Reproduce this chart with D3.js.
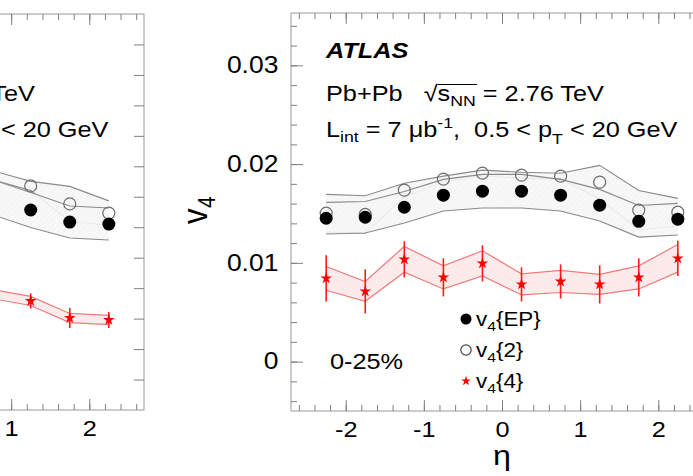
<!DOCTYPE html>
<meta charset="utf-8">
<style>
body { margin: 0; background: #fff; }
svg { display: block; }
text { font-family: "Liberation Sans", Arial, sans-serif; white-space: pre; fill: #000; }
.frame { fill: none; stroke: #9a9a9a; stroke-width: 1; }
.tick line { stroke: #808080; }
</style>
<svg id="vis" width="693" height="476"></svg>
<script src="https://cdn.jsdelivr.net/npm/d3@7"></script>
<script>
// eta bins (bin centres)
var eta = [-2.25, -1.75, -1.25, -0.75, -0.25, 0.25, 0.75, 1.25, 1.75, 2.25];

// right panel, 0-25%
var v4EP    = [0.01452, 0.01462, 0.01563, 0.01685, 0.01726, 0.01726, 0.01685, 0.01584, 0.01421, 0.01442];
var v4EPsys = [0.0016, 0.0016, 0.0016, 0.0016, 0.0017, 0.0017, 0.0016, 0.0016, 0.0016, 0.0016];
var v42     = [0.01503, 0.0149, 0.01736, 0.01848, 0.01909, 0.01888, 0.01878, 0.01817, 0.01533, 0.01513];
var v42sys  = [0.0019, 0.0019, 0.0007, 0.0003, 0.0003, 0.0003, 0.0003, 0.0017, 0.0020, 0.0014];
var v44     = [0.00843, 0.00711, 0.01036, 0.00853, 0.00995, 0.00782, 0.00812, 0.00782, 0.00853, 0.01046];
var v44err  = [0.00234, 0.00223, 0.00183, 0.00193, 0.00183, 0.00173, 0.00173, 0.00193, 0.00193, 0.00178];
var v44sys  = [0.0012, 0.0010, 0.0013, 0.00117, 0.00127, 0.00107, 0.00112, 0.00102, 0.00117, 0.0014];

// left panel (only its right edge is in the picture)
var etaL      = [0.75, 1.25, 1.75, 2.25];
var v4EP_L    = [0.01399, 0.01313, 0.01234, 0.01221];
var v4EPsys_L = [0.00115, 0.00115, 0.00105, 0.00105];
var v42_L     = [0.01543, 0.01471, 0.01353, 0.01293];
var v42sys_L  = [0.0003, 0.0003, 0.00115, 0.0008];
var v44_L     = [0.00762, 0.00716, 0.00604, 0.00591];
var v44err_L  = [0.0005, 0.0005, 0.00066, 0.00053];
var v44sys_L  = [0.0003, 0.0003, 0.0003, 0.0003];

var yTicks = [0, 0.01, 0.02, 0.03];
var xTicks = [-2, -1, 0, 1, 2];
var centrality = "0-25%";

var svg = d3.select("#vis");
var sx = 1.15; // text looks stretched sideways in the reference

// hatch for the grey systematic bands
var defs = svg.append("defs");
var pat = defs.append("pattern").attr("id", "hatch").attr("patternUnits", "userSpaceOnUse")
    .attr("width", 4).attr("height", 4).attr("patternTransform", "rotate(45)");
pat.append("rect").attr("width", 4).attr("height", 4).attr("fill", "#f7f7f7");
pat.append("line").attr("x1", 0).attr("y1", 0).attr("x2", 0).attr("y2", 4)
    .attr("stroke", "#eeeeee").attr("stroke-width", 1);

function rich(g0, x, y, parts, size) {
  var g = g0.append("g").attr("transform", "translate(" + x + "," + y + ") scale(" + sx + ",1)");
  var cx = 0, pos = [];
  parts.forEach(function(p) {
    var t = g.append("text").attr("x", cx).attr("y", p.dy || 0)
        .attr("font-size", size * (p.s || 1)).text(p.t);
    if (p.w) t.attr("font-weight", p.w);
    if (p.i) t.attr("font-style", "italic");
    pos.push(cx);
    cx += t.node().getComputedTextLength();
  });
  return { g: g, pos: pos, end: cx };
}

function panel(x0, x1, y0, y1, yDomain, data, opts) {
  var g = svg.append("g");
  var x = d3.scaleLinear().domain([-2.7, 2.7]).range([x0, x1]);
  var y = d3.scaleLinear().domain(yDomain).range([y1, y0]);

  var rows = data.eta.map(function(e, i) {
    return { e: e, ep: data.ep[i], eps: data.eps[i], c2: data.c2[i], c2s: data.c2s[i],
             c4: data.c4[i], c4e: data.c4e[i], c4s: data.c4s[i] };
  });

  // grey bands (v4{2} then v4{EP})
  [["c2", "c2s"], ["ep", "eps"]].forEach(function(k) {
    var area = d3.area().x(function(d) { return x(d.e); })
        .y0(function(d) { return y(d[k[0]] - d[k[1]]); })
        .y1(function(d) { return y(d[k[0]] + d[k[1]]); });
    g.append("path").datum(rows).attr("d", area).attr("fill", "url(#hatch)").attr("opacity", 0.9);
    [-1, 1].forEach(function(s) {
      g.append("path").datum(rows)
        .attr("d", d3.line().x(function(d) { return x(d.e); })
          .y(function(d) { return y(d[k[0]] + s * d[k[1]]); }))
        .attr("fill", "none").attr("stroke", "#8a8a8a").attr("stroke-width", 1.1);
    });
  });

  // red band for v4{4}
  var rarea = d3.area().x(function(d) { return x(d.e); })
      .y0(function(d) { return y(d.c4 - d.c4s); })
      .y1(function(d) { return y(d.c4 + d.c4s); });
  g.append("path").datum(rows).attr("d", rarea).attr("fill", "#fdeaea");
  [-1, 1].forEach(function(s) {
    g.append("path").datum(rows)
      .attr("d", d3.line().x(function(d) { return x(d.e); })
        .y(function(d) { return y(d.c4 + s * d.c4s); }))
      .attr("fill", "none").attr("stroke", "#f07a7a").attr("stroke-width", 1.2);
  });

  // stat errors on v4{4}
  g.selectAll(".err").data(rows).enter().append("line")
    .attr("x1", function(d) { return x(d.e); }).attr("x2", function(d) { return x(d.e); })
    .attr("y1", function(d) { return y(d.c4 - d.c4e); })
    .attr("y2", function(d) { return y(d.c4 + d.c4e); })
    .attr("stroke", "#ff1a1a").attr("stroke-width", 1.6);

  g.selectAll(".open").data(rows).enter().append("circle")
    .attr("cx", function(d) { return x(d.e); }).attr("cy", function(d) { return y(d.c2); })
    .attr("r", 6).attr("fill", "none").attr("stroke", "#6e6e6e").attr("stroke-width", 1.2);
  g.selectAll(".full").data(rows).enter().append("circle")
    .attr("cx", function(d) { return x(d.e); }).attr("cy", function(d) { return y(d.ep); })
    .attr("r", 6.5).attr("fill", "#000");
  var star = d3.symbol().type(d3.symbolStar).size(42);
  g.selectAll(".star").data(rows).enter().append("path")
    .attr("d", star)
    .attr("transform", function(d) { return "translate(" + x(d.e) + "," + y(d.c4) + ")"; })
    .attr("fill", "#ff0000");

  // frame and ticks
  g.append("rect").attr("class", "frame").attr("x", x0).attr("y", y0)
    .attr("width", x1 - x0).attr("height", y1 - y0);

  var minorX = d3.range(-26, 27, 2).map(function(v) { return v / 10; });
  g.append("g").attr("transform", "translate(0," + y1 + ")")
    .call(d3.axisBottom(x).tickValues(minorX).tickSize(-6).tickFormat(""))
    .call(function(a) { a.select(".domain").remove(); });
  g.append("g").attr("transform", "translate(0," + y0 + ")")
    .call(d3.axisTop(x).tickValues(minorX).tickSize(-6).tickFormat(""))
    .call(function(a) { a.select(".domain").remove(); });
  // only label the ticks that land inside the picture
  var shown = xTicks.filter(function(v) { return x(v) > 5; });
  var bx = g.append("g").attr("transform", "translate(0," + y1 + ")")
    .call(d3.axisBottom(x).tickValues(xTicks).tickSize(-11).tickPadding(10)
      .tickFormat(function(d) { return shown.indexOf(d) < 0 ? "" : String(d); }));
  bx.select(".domain").remove();
  bx.selectAll("text").attr("font-size", 22).attr("font-family", null).attr("fill", "#000")
    .attr("transform", "scale(" + sx + ",1)");
  g.append("g").attr("transform", "translate(0," + y0 + ")")
    .call(d3.axisTop(x).tickValues(xTicks).tickSize(-11).tickFormat(""))
    .call(function(a) { a.select(".domain").remove(); });

  if (opts.right) {
    g.append("g").attr("transform", "translate(" + x1 + ",0)")
      .call(d3.axisRight(y).tickValues(opts.rightTicks).tickSize(-10).tickFormat(""))
      .call(function(a) { a.select(".domain").remove(); });
  }
  if (opts.left) {
    var minorY = d3.range(-2, 18).map(function(v) { return v * 0.002; });
    g.append("g").attr("transform", "translate(" + x0 + ",0)")
      .call(d3.axisLeft(y).tickValues(minorY).tickSize(-6).tickFormat(""))
      .call(function(a) { a.select(".domain").remove(); });
    var ly = g.append("g").attr("transform", "translate(" + x0 + ",0)")
      .call(d3.axisLeft(y).tickValues(yTicks).tickSize(-12).tickPadding(11)
        .tickFormat(function(d) { return d === 0 ? "0" : d3.format(".2f")(d); }));
    ly.select(".domain").remove();
    ly.selectAll("text").attr("font-size", 23).attr("font-family", null).attr("fill", "#000")
      .attr("transform", "scale(" + sx + ",1)");
  }

  // text block
  var tx = x0 + 35;
  var l1 = rich(svg, tx, 101, [
    { t: "Pb+Pb   " }, { t: "\u221A" }, { t: "s" }, { t: "NN", s: 0.7, dy: 5 }, { t: " = 2.76 TeV" }
  ], 22);
  l1.g.append("line").attr("x1", l1.pos[2]).attr("x2", l1.pos[4] + 1)
    .attr("y1", -16.5).attr("y2", -16.5).attr("stroke", "#000").attr("stroke-width", 1.1);
  rich(svg, tx, 137, [
    { t: "L" }, { t: "int", s: 0.7, dy: 5 }, { t: " = 7 \u03BCb" }, { t: "-1", s: 0.7, dy: -9 },
    { t: ",  0.5 < p" }, { t: "T", s: 0.7, dy: 7 }, { t: " < 20 GeV" }
  ], 22);
  return { x: x, y: y };
}

// left panel: shifted so that only its right part shows
panel(-278, 144, 14, 410, [0, 0.026],
  { eta: etaL, ep: v4EP_L, eps: v4EPsys_L, c2: v42_L, c2s: v42sys_L, c4: v44_L, c4e: v44err_L, c4s: v44sys_L },
  { right: true, rightTicks: d3.range(1, 13).map(function(v) { return v * 0.002; }) });

// right panel
var P = panel(291, 713, 13, 411, [-0.005, 0.0353],
  { eta: eta, ep: v4EP, eps: v4EPsys, c2: v42, c2s: v42sys, c4: v44, c4e: v44err, c4s: v44sys },
  { left: true });

// ATLAS label
rich(svg, 326, 58, [{ t: "ATLAS", w: "bold", i: true }], 22);

// centrality
rich(svg, 330, 369, [{ t: centrality }], 22);

// legend
var legendRows = [
  { sym: "full", t: "EP", y: 319 },
  { sym: "open", t: "2", y: 350 },
  { sym: "star", t: "4", y: 381 }
];
legendRows.forEach(function(r) {
  if (r.sym === "full") svg.append("circle").attr("cx", 466).attr("cy", r.y).attr("r", 5.5).attr("fill", "#000");
  if (r.sym === "open") svg.append("circle").attr("cx", 466).attr("cy", r.y).attr("r", 5.2)
    .attr("fill", "none").attr("stroke", "#444").attr("stroke-width", 1.2);
  if (r.sym === "star") svg.append("path").attr("d", d3.symbol().type(d3.symbolStar).size(30))
    .attr("transform", "translate(466," + r.y + ")").attr("fill", "#ff0000");
  rich(svg, 476, r.y + 7, [{ t: "v" }, { t: "4", s: 0.7, dy: 5 }, { t: "{" + r.t + "}" }], 19.5);
});

// axis titles
svg.append("text").attr("transform", "translate(502,465) scale(" + sx + ",1)")
  .attr("text-anchor", "middle").attr("font-size", 28).text("\u03B7");
var yt = svg.append("g").attr("transform", "translate(207,224) scale(" + sx + ",1) rotate(-90)");
yt.append("text").attr("font-size", 31).text("v");
yt.append("text").attr("x", 16).attr("y", 7).attr("font-size", 21).text("4");
</script>
